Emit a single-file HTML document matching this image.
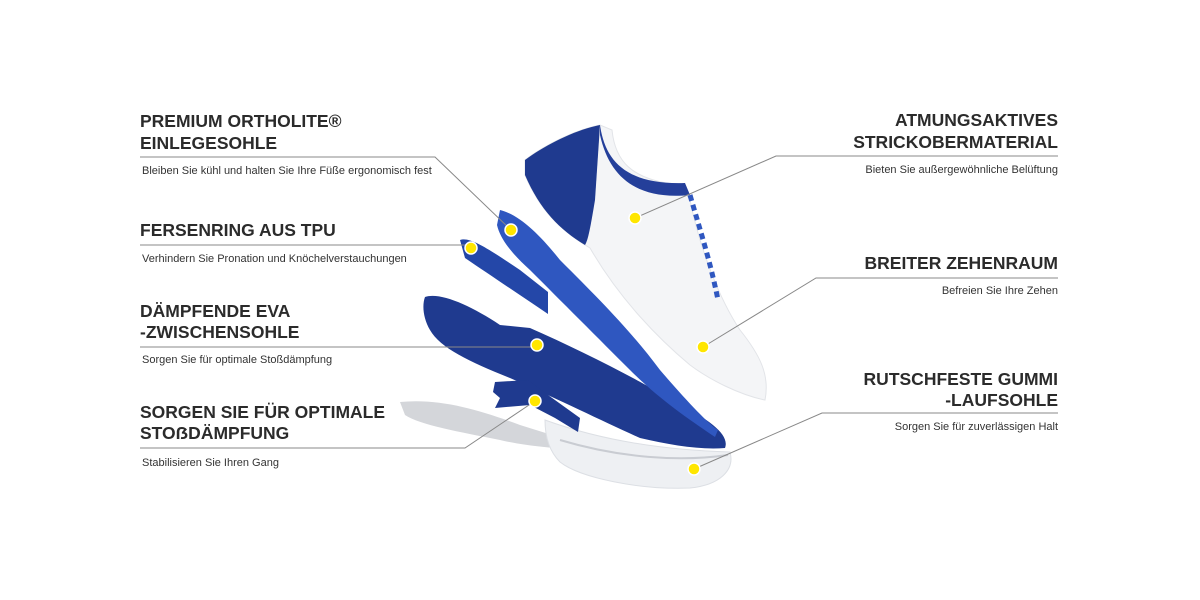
<!DOCTYPE html>
<html><head><meta charset="utf-8"><style>
html,body{margin:0;padding:0;background:#fff}
svg{display:block}
.h{font-family:"Liberation Sans",sans-serif;font-weight:bold;font-size:17.5px;fill:#2b2b2b}
.s{font-family:"Liberation Sans",sans-serif;font-size:11px;fill:#333}
</style></head><body>
<svg width="1200" height="600" viewBox="0 0 1200 600" xmlns="http://www.w3.org/2000/svg">
<path d="M400 402 C440 398 480 410 520 425 L600 450 C560 450 520 445 500 440 C460 432 420 425 405 415 Z" fill="#d4d6da"/>
<path d="M545 420 C600 440 660 450 730 452 C735 470 720 485 690 488 C640 490 580 478 560 462 C548 450 545 435 545 420 Z" fill="#eef0f3" stroke="#dcdfe4"/>
<path d="M560 440 C620 458 680 462 728 455" stroke="#c9ccd2" stroke-width="2" fill="none"/>
<path d="M425 297 C440 292 470 305 500 325 L530 328 C580 350 640 380 680 405 C710 420 730 435 725 448 C700 450 670 445 640 438 C600 420 560 400 510 378 C470 362 440 348 430 330 C423 318 422 305 425 297 Z" fill="#1f3a8f"/>
<path d="M500 210 C520 215 540 235 560 260 C600 300 630 330 660 370 C690 405 710 425 718 430 L715 437 C690 420 660 400 630 370 C600 340 560 300 530 270 C510 252 500 238 497 225 Z" fill="#2f57c0"/>
<path d="M460 240 C470 236 490 250 520 270 L548 292 L548 314 C520 295 490 275 465 258 Z" fill="#2447a8"/>
<path d="M495 382 L528 380 L548 395 L580 418 L578 432 L555 418 L530 405 L495 408 L500 398 L493 392 Z" fill="#1f3a8f"/>
<path d="M525 160 C545 145 575 130 600 125 L612 130 C615 160 630 180 680 185 L690 200 C700 250 720 300 740 330 C760 355 770 375 765 400 C740 395 710 380 690 365 C660 340 620 300 590 248 C560 230 540 210 525 175 Z" fill="#f4f5f7" stroke="#e2e4e8"/>
<path d="M525 160 C545 145 575 130 600 125 L595 200 C590 230 588 240 585 245 C560 230 540 210 525 175 Z" fill="#1f3a8f"/>
<path d="M600 125 C605 160 625 185 685 183 L690 195 C640 200 610 180 600 135 Z" fill="#243f9a"/>
<path d="M690 195 C700 230 710 260 718 300" stroke="#2f57c0" stroke-width="5" fill="none" stroke-dasharray="6 4"/>
<g stroke="#888" stroke-width="1" fill="none">
<polyline points="140,157 435,157 511,230"/>
<polyline points="140,245 471,245 471,248"/>
<polyline points="140,347 537,347"/>
<polyline points="140,448 465,448 535,401"/>
<polyline points="1058,156 776,156 635,218"/>
<polyline points="1058,278 816,278 703,347"/>
<polyline points="1058,413 822,413 694,469"/>
</g>
<g fill="#ffe600" stroke="#fff" stroke-width="1.5">
<circle cx="511" cy="230" r="6"/><circle cx="471" cy="248" r="6"/><circle cx="537" cy="345" r="6"/>
<circle cx="535" cy="401" r="6"/><circle cx="635" cy="218" r="6"/><circle cx="703" cy="347" r="6"/><circle cx="694" cy="469" r="6"/>
</g>
<text class="h" x="140" y="127">PREMIUM ORTHOLITE®</text>
<text class="h" x="140" y="149">EINLEGESOHLE</text>
<text class="s" x="142" y="174">Bleiben Sie kühl und halten Sie Ihre Füße ergonomisch fest</text>
<text class="h" x="140" y="236">FERSENRING AUS TPU</text>
<text class="s" x="142" y="262">Verhindern Sie Pronation und Knöchelverstauchungen</text>
<text class="h" x="140" y="317">DÄMPFENDE EVA</text>
<text class="h" x="140" y="338">-ZWISCHENSOHLE</text>
<text class="s" x="142" y="363">Sorgen Sie für optimale Stoßdämpfung</text>
<text class="h" x="140" y="418">SORGEN SIE FÜR OPTIMALE</text>
<text class="h" x="140" y="439">STOẞDÄMPFUNG</text>
<text class="s" x="142" y="466">Stabilisieren Sie Ihren Gang</text>
<g text-anchor="end">
<text class="h" x="1058" y="126">ATMUNGSAKTIVES</text>
<text class="h" x="1058" y="148">STRICKOBERMATERIAL</text>
<text class="s" x="1058" y="173">Bieten Sie außergewöhnliche Belüftung</text>
<text class="h" x="1058" y="269">BREITER ZEHENRAUM</text>
<text class="s" x="1058" y="294">Befreien Sie Ihre Zehen</text>
<text class="h" x="1058" y="385">RUTSCHFESTE GUMMI</text>
<text class="h" x="1058" y="406">-LAUFSOHLE</text>
<text class="s" x="1058" y="430">Sorgen Sie für zuverlässigen Halt</text>
</g>
</svg>
</body></html>
